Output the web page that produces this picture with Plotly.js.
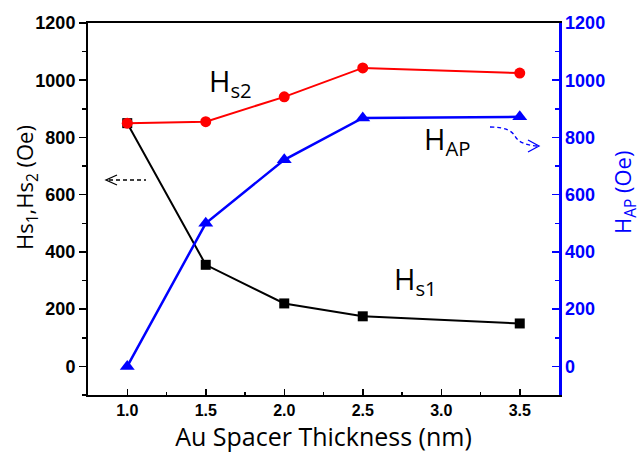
<!DOCTYPE html>
<html><head><meta charset="utf-8">
<script src="https://cdn.plot.ly/plotly-3.0.1.min.js"></script>
<style>body{margin:0;padding:0;background:#fff}#chart{width:643px;height:457px}</style>
</head><body><div id="chart"></div>
<script>
const thickness = [1.0, 1.5, 2.0, 2.5, 3.5];
const hs1 = [850, 355, 220, 175, 150];
const hs2 = [850, 855, 942, 1043, 1025];
const hap = [0, 500, 722, 868, 872];
const yTicks = [0, 200, 400, 600, 800, 1000, 1200];
const xTicks = [1.0, 1.5, 2.0, 2.5, 3.0, 3.5];
const xTickLabels = ['1.0', '1.5', '2.0', '2.5', '3.0', '3.5'];

const M = {l: 88, r: 84, t: 23, b: 62};
const XR = [0.75, 3.75], YR = [-100, 1200];
const PW = 643 - M.l - M.r, PH = 457 - M.t - M.b;
// pixel -> data helpers for decorative shapes
const xd = px => XR[0] + (px - M.l) / PW * (XR[1] - XR[0]);
const yd = py => YR[1] - (py - M.t) / PH * (YR[1] - YR[0]);
const P = (px, py) => xd(px).toFixed(4) + ',' + yd(py).toFixed(2);
// pixel -> paper (plot-area fraction) helpers
const xp = px => (px - M.l) / PW;
const yp = py => (M.t + PH - py) / PH;

const tickFamily = 'Liberation Sans, Arial, sans-serif';
const titleFamily = 'Open Sans, Noto Sans, sans-serif';

const traces = [
  {x: thickness, y: hs1, mode: 'lines+markers', line: {color: '#000', width: 2},
   marker: {symbol: 'square', size: 10, color: '#000'}, yaxis: 'y', cliponaxis: false},
  {x: thickness, y: hs2, mode: 'lines+markers', line: {color: '#ff0000', width: 2},
   marker: {symbol: 'circle', size: 11, color: '#ff0000'}, yaxis: 'y', cliponaxis: false},
  {x: thickness, y: hap, mode: 'lines+markers', line: {color: '#0000ff', width: 2.5},
   marker: {symbol: 'triangle-up', size: 13, color: '#0000ff'}, yaxis: 'y2', cliponaxis: false}
];

const layout = {
  width: 643, height: 457,
  margin: M,
  showlegend: false,
  paper_bgcolor: '#fff', plot_bgcolor: '#fff',
  xaxis: {
    range: XR, tickvals: xTicks, ticktext: xTickLabels.map(s => '<b>' + s + '</b>'),
    ticks: 'inside', ticklen: 6, tickwidth: 1.5, tickcolor: '#000',
    minor: {dtick: 0.25, tick0: 0.75, ticks: 'inside', ticklen: 3, tickcolor: '#000', tickwidth: 1.5, showgrid: false},
    showline: true, linecolor: '#000', linewidth: 2, mirror: true,
    showgrid: false, zeroline: false, tickfont: {family: tickFamily, size: 16, color: '#000'},
    automargin: false,
    title: {text: 'Au Spacer Thickness (nm)', font: {family: titleFamily, size: 25, color: '#000'}, standoff: 4}
  },
  yaxis: {
    range: YR, tickvals: yTicks, ticktext: yTicks.map(v => '<b>' + v + '</b>'),
    ticks: 'outside', ticklen: 7, tickwidth: 1.5, tickcolor: '#000',
    minor: {dtick: 100, tick0: 0, ticks: 'outside', ticklen: 4, tickcolor: '#000', tickwidth: 1.5, showgrid: false},
    showline: true, linecolor: '#000', linewidth: 2,
    showgrid: false, zeroline: false, tickfont: {family: tickFamily, size: 18, color: '#000'},
    automargin: false
  },
  yaxis2: {
    overlaying: 'y', side: 'right',
    range: YR, tickvals: yTicks, ticktext: yTicks.map(v => '<b>' + v + '</b>'),
    ticks: 'inside', ticklen: 7, tickwidth: 1.5, tickcolor: '#0000ff',
    minor: {dtick: 100, tick0: 0, ticks: 'inside', ticklen: 4, tickcolor: '#0000ff', tickwidth: 1.5, showgrid: false},
    showline: true, linecolor: '#0000ff', linewidth: 2.5,
    showgrid: false, zeroline: false, automargin: false,
    tickfont: {family: tickFamily, size: 18, color: '#0000ff'}
  },
  annotations: [
    {x: xp(26), y: yp(188), xref: 'paper', yref: 'paper', xanchor: 'center', yanchor: 'middle',
     text: 'Hs<sub>1</sub>,Hs<sub>2</sub> (Oe)',
     textangle: -90, showarrow: false, font: {family: titleFamily, size: 22, color: '#000'}},
    {x: xp(624), y: yp(193), xref: 'paper', yref: 'paper', xanchor: 'center', yanchor: 'middle',
     text: 'H<sub>AP</sub> (Oe)',
     textangle: -90, showarrow: false, font: {family: titleFamily, size: 22, color: '#0000ff'}},
    {x: xd(230), y: yd(82), xref: 'x', yref: 'y', text: 'H<sub>s2</sub>', showarrow: false,
     font: {family: titleFamily, size: 29, color: '#000'}},
    {x: xd(415), y: yd(280), xref: 'x', yref: 'y', text: 'H<sub>s1</sub>', showarrow: false,
     font: {family: titleFamily, size: 29, color: '#000'}},
    {x: xd(447), y: yd(140), xref: 'x', yref: 'y', text: 'H<sub>AP</sub>', showarrow: false,
     font: {family: titleFamily, size: 29, color: '#000'}}
  ],
  shapes: [
    {type: 'line', xref: 'x', yref: 'y', x0: xd(109), y0: yd(180), x1: xd(146), y1: yd(180),
     line: {color: '#000', width: 1.3, dash: '4px,3px'}},
    {type: 'path', xref: 'x', yref: 'y', path: 'M ' + P(117, 175) + ' L ' + P(106, 180) + ' L ' + P(117, 185),
     line: {color: '#000', width: 1.3}},
    {type: 'path', xref: 'x', yref: 'y',
     path: 'M ' + P(490, 127) + ' C ' + P(505, 127) + ' ' + P(512, 131) + ' ' + P(515, 136) +
           ' C ' + P(518, 142) + ' ' + P(525, 145) + ' ' + P(537, 146),
     line: {color: '#0000ff', width: 1.3, dash: '4px,3px'}},
    {type: 'path', xref: 'x', yref: 'y', path: 'M ' + P(528, 140) + ' L ' + P(539, 146) + ' L ' + P(528, 152),
     line: {color: '#0000ff', width: 1.3}}
  ]
};

Plotly.newPlot('chart', traces, layout, {displayModeBar: false, staticPlot: true});
</script></body></html>
